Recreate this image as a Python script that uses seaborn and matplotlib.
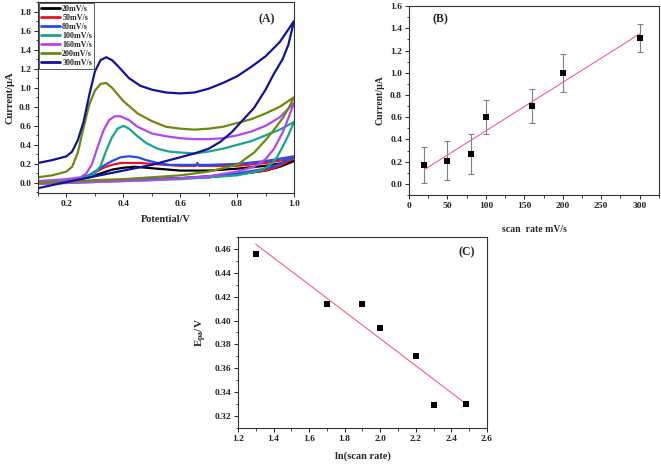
import numpy as np
import pandas as pd
import matplotlib
matplotlib.use("Agg")
import matplotlib.pyplot as plt
from matplotlib.ticker import MultipleLocator
import seaborn as sns

# ---- panel A : cyclic voltammograms (forward / reverse branches) ----
rate_labels = ["20mV/s", "50mV/s", "80mV/s", "100mV/s", "160mV/s", "200mV/s", "300mV/s"]
rate_colors = ["#000000", "#e8102a", "#1f4fe6", "#17a58c", "#b446f2", "#6b8a0e", "#12129e"]

v20_f = [0.10, 0.20, 0.25, 0.28, 0.30, 0.33, 0.36, 0.40, 0.44, 0.48, 0.52, 0.56, 0.60, 0.70, 0.80, 0.90, 1.00]
i20_f = [0.00, 0.02, 0.04, 0.06, 0.08, 0.11, 0.14, 0.16, 0.17, 0.16, 0.15, 0.14, 0.13, 0.13, 0.15, 0.18, 0.23]
v20_r = [1.00, 0.95, 0.90, 0.80, 0.70, 0.60, 0.50, 0.40, 0.30, 0.20, 0.10]
i20_r = [0.23, 0.17, 0.13, 0.09, 0.06, 0.05, 0.04, 0.03, 0.02, 0.01, 0.00]

v50_f = [0.10, 0.20, 0.25, 0.28, 0.30, 0.33, 0.36, 0.39, 0.42, 0.46, 0.50, 0.55, 0.60, 0.655, 0.66, 0.665, 0.70, 0.80, 0.90, 1.00]
i50_f = [0.01, 0.03, 0.05, 0.08, 0.11, 0.16, 0.19, 0.21, 0.21, 0.21, 0.20, 0.19, 0.18, 0.18, 0.21, 0.18, 0.18, 0.18, 0.21, 0.26]
v50_r = [1.00, 0.95, 0.90, 0.80, 0.70, 0.60, 0.50, 0.40, 0.30, 0.20, 0.10]
i50_r = [0.26, 0.18, 0.13, 0.09, 0.07, 0.05, 0.04, 0.03, 0.02, 0.01, 0.00]

v80_f = [0.10, 0.20, 0.25, 0.28, 0.30, 0.33, 0.36, 0.39, 0.42, 0.45, 0.48, 0.52, 0.56, 0.60, 0.70, 0.80, 0.90, 1.00]
i80_f = [0.01, 0.03, 0.05, 0.08, 0.12, 0.18, 0.23, 0.27, 0.28, 0.27, 0.24, 0.21, 0.19, 0.19, 0.19, 0.20, 0.23, 0.28]
v80_r = [1.00, 0.95, 0.90, 0.80, 0.70, 0.60, 0.50, 0.40, 0.30, 0.20, 0.10]
i80_r = [0.28, 0.20, 0.15, 0.10, 0.07, 0.05, 0.04, 0.03, 0.02, 0.01, 0.00]

v100_f = [0.10, 0.20, 0.25, 0.28, 0.30, 0.32, 0.34, 0.36, 0.38, 0.40, 0.42, 0.45, 0.48, 0.52, 0.56, 0.60, 0.65, 0.70, 0.75, 0.80, 0.85, 0.90, 0.95, 1.00]
i100_f = [0.01, 0.03, 0.05, 0.07, 0.10, 0.18, 0.34, 0.48, 0.57, 0.60, 0.57, 0.49, 0.42, 0.36, 0.33, 0.32, 0.31, 0.33, 0.36, 0.40, 0.44, 0.50, 0.56, 0.64]
v100_r = [1.00, 0.98, 0.96, 0.94, 0.92, 0.89, 0.85, 0.80, 0.70, 0.60, 0.50, 0.40, 0.30, 0.20, 0.10]
i100_r = [0.64, 0.50, 0.38, 0.27, 0.20, 0.14, 0.11, 0.08, 0.06, 0.04, 0.03, 0.02, 0.01, 0.00, -0.01]

v160_f = [0.10, 0.15, 0.20, 0.25, 0.27, 0.29, 0.31, 0.33, 0.35, 0.37, 0.39, 0.42, 0.45, 0.50, 0.55, 0.60, 0.65, 0.70, 0.75, 0.80, 0.85, 0.90, 0.95, 1.00]
i160_f = [0.02, 0.03, 0.04, 0.06, 0.10, 0.20, 0.38, 0.55, 0.66, 0.70, 0.70, 0.66, 0.59, 0.52, 0.49, 0.47, 0.46, 0.46, 0.47, 0.50, 0.54, 0.60, 0.69, 0.84]
v160_r = [1.00, 0.98, 0.96, 0.93, 0.90, 0.86, 0.80, 0.70, 0.60, 0.50, 0.40, 0.30, 0.20, 0.10]
i160_r = [0.84, 0.68, 0.53, 0.36, 0.25, 0.17, 0.12, 0.07, 0.05, 0.03, 0.02, 0.01, 0.00, -0.01]

v200_f = [0.10, 0.15, 0.20, 0.22, 0.24, 0.26, 0.28, 0.30, 0.32, 0.34, 0.36, 0.40, 0.45, 0.50, 0.55, 0.60, 0.65, 0.70, 0.75, 0.80, 0.85, 0.90, 0.95, 1.00]
i200_f = [0.06, 0.08, 0.12, 0.17, 0.32, 0.58, 0.82, 0.97, 1.04, 1.05, 1.00, 0.86, 0.73, 0.65, 0.59, 0.57, 0.56, 0.57, 0.59, 0.63, 0.67, 0.73, 0.80, 0.90]
v200_r = [1.00, 0.98, 0.96, 0.93, 0.90, 0.86, 0.80, 0.70, 0.60, 0.50, 0.40, 0.30, 0.20, 0.10]
i200_r = [0.90, 0.78, 0.68, 0.56, 0.45, 0.32, 0.19, 0.12, 0.08, 0.06, 0.04, 0.03, 0.01, 0.00]

v300_f = [0.10, 0.15, 0.20, 0.22, 0.24, 0.26, 0.28, 0.30, 0.32, 0.34, 0.36, 0.38, 0.42, 0.46, 0.50, 0.55, 0.60, 0.65, 0.70, 0.75, 0.80, 0.85, 0.90, 0.95, 1.00]
i300_f = [0.21, 0.24, 0.28, 0.33, 0.45, 0.64, 0.92, 1.17, 1.29, 1.32, 1.29, 1.23, 1.10, 1.02, 0.98, 0.95, 0.94, 0.95, 0.99, 1.05, 1.12, 1.22, 1.33, 1.48, 1.70]
v300_r = [1.00, 0.98, 0.96, 0.93, 0.90, 0.86, 0.82, 0.78, 0.74, 0.70, 0.65, 0.60, 0.50, 0.40, 0.30, 0.20, 0.10]
i300_r = [1.70, 1.45, 1.30, 1.15, 0.98, 0.79, 0.66, 0.53, 0.43, 0.36, 0.31, 0.27, 0.19, 0.13, 0.07, 0.01, -0.055]

# ---- panel B : peak current vs scan rate ----
scan_rate = [20, 50, 80, 100, 160, 200, 300]
peak_current = [0.17, 0.21, 0.27, 0.60, 0.70, 1.00, 1.31]
current_err = [0.165, 0.174, 0.177, 0.153, 0.15, 0.17, 0.125]

# ---- panel C : peak potential vs ln(scan rate) ----
ln_rate = [1.30, 1.70, 1.90, 2.00, 2.20, 2.30, 2.48]
epa = [0.456, 0.414, 0.414, 0.394, 0.370, 0.329, 0.330]

sns.set_style("ticks")
plt.rcParams["font.family"] = ["Liberation Serif", "DejaVu Serif"]
plt.rcParams["font.weight"] = "bold"
plt.rcParams["axes.labelweight"] = "bold"
plt.rcParams["mathtext.fontset"] = "custom"
plt.rcParams["mathtext.rm"] = "Liberation Serif:bold"
plt.rcParams["mathtext.it"] = "Liberation Serif:bold"
plt.rcParams["mathtext.bf"] = "Liberation Serif:bold"

fig = plt.figure(figsize=(6.61, 4.65), dpi=100)
axA = fig.add_axes([0.0575, 0.585, 0.3873, 0.4107])
axB = fig.add_axes([0.6188, 0.5806, 0.378, 0.4064])
axC = fig.add_axes([0.360, 0.0796, 0.3767, 0.4108])

# build the CV table: each loop = forward then reverse branch
curves = [(v20_f, i20_f, v20_r, i20_r), (v50_f, i50_f, v50_r, i50_r),
          (v80_f, i80_f, v80_r, i80_r), (v100_f, i100_f, v100_r, i100_r),
          (v160_f, i160_f, v160_r, i160_r), (v200_f, i200_f, v200_r, i200_r),
          (v300_f, i300_f, v300_r, i300_r)]
rows = []
for lab, (vf, jf, vr, jr) in zip(rate_labels, curves):
    for v, j in zip(vf + vr, jf + jr):
        rows.append({"V": v, "I": j, "rate": lab})
cv = pd.DataFrame(rows)

sns.lineplot(data=cv, x="V", y="I", hue="rate", hue_order=rate_labels,
             palette=rate_colors, sort=False, estimator=None, lw=1.6, ax=axA)
axA.set_xlim(0.1, 1.0)
axA.set_ylim(-0.105, 1.9)
axA.xaxis.set_major_locator(MultipleLocator(0.2))
axA.xaxis.set_minor_locator(MultipleLocator(0.1))
axA.yaxis.set_major_locator(MultipleLocator(0.2))
axA.yaxis.set_minor_locator(MultipleLocator(0.1))
axA.set_xticks([0.2, 0.4, 0.6, 0.8, 1.0])
axA.set_xlabel("Potential/V", fontsize=7.5, labelpad=5)
axA.set_ylabel("Current/μA", fontsize=7.5, labelpad=3)
leg = axA.legend(loc="upper left", fontsize=5.8, frameon=True, fancybox=False,
                 edgecolor="#333333", handlelength=2.3, handletextpad=0.3,
                 borderpad=0.25, labelspacing=0.12, borderaxespad=0.15)
leg.get_frame().set_linewidth(0.7)
for t in leg.get_texts():
    t.set_fontweight("bold")
for h in leg.get_lines():
    h.set_linewidth(2.0)
axA.text(0.895, 0.91, "(A)", transform=axA.transAxes, fontsize=8.5,
         fontweight="bold", ha="center", va="center")

# panel B
axB.errorbar(scan_rate, peak_current, yerr=current_err, fmt="none",
             ecolor="#808080", elinewidth=0.8, capsize=2, capthick=0.8, zorder=1)
sns.regplot(x=scan_rate, y=peak_current, ax=axB, ci=None, marker="s",
            color="black",
            scatter_kws={"s": 14, "zorder": 3, "alpha": 1, "linewidths": 0},
            line_kws={"color": "#f2637c", "lw": 0.8, "zorder": 2})
axB.set_xlim(0, 325)
axB.set_ylim(-0.1, 1.6)
axB.xaxis.set_major_locator(MultipleLocator(50))
axB.xaxis.set_minor_locator(MultipleLocator(25))
axB.yaxis.set_major_locator(MultipleLocator(0.2))
axB.yaxis.set_minor_locator(MultipleLocator(0.1))
axB.set_xlabel("scan  rate mV/s", fontsize=7, labelpad=11)
axB.set_ylabel("Current/μA", fontsize=7, labelpad=4)
axB.text(0.124, 0.93, "(B)", transform=axB.transAxes, fontsize=8.5,
         fontweight="bold", ha="center", va="center")

# panel C
sns.regplot(x=ln_rate, y=epa, ax=axC, ci=None, marker="s", color="black",
            scatter_kws={"s": 14, "zorder": 3, "alpha": 1, "linewidths": 0},
            line_kws={"color": "#f2637c", "lw": 0.8, "zorder": 2})
axC.set_xlim(1.2, 2.6)
axC.set_ylim(0.31, 0.47)
axC.xaxis.set_major_locator(MultipleLocator(0.2))
axC.xaxis.set_minor_locator(MultipleLocator(0.1))
axC.yaxis.set_major_locator(MultipleLocator(0.02))
axC.yaxis.set_minor_locator(MultipleLocator(0.01))
axC.set_xlabel("ln(scan rate)", fontsize=7.5, labelpad=6)
axC.set_ylabel(r"E$_{\mathrm{pa}}$/V", fontsize=8, labelpad=4)
axC.text(0.92, 0.92, "(C)", transform=axC.transAxes, fontsize=8.5,
         fontweight="bold", ha="center", va="center")

for ax in (axA, axB, axC):
    for s in ax.spines.values():
        s.set_linewidth(0.8)
        s.set_color("#333333")
    ax.tick_params(which="major", direction="out", length=3, width=0.7,
                   labelsize=6.8, pad=2)
    ax.tick_params(which="minor", direction="out", length=1.8, width=0.6)
    for lbl in ax.get_xticklabels() + ax.get_yticklabels():
        lbl.set_fontweight("bold")

fig.savefig("out.png", dpi=100)
